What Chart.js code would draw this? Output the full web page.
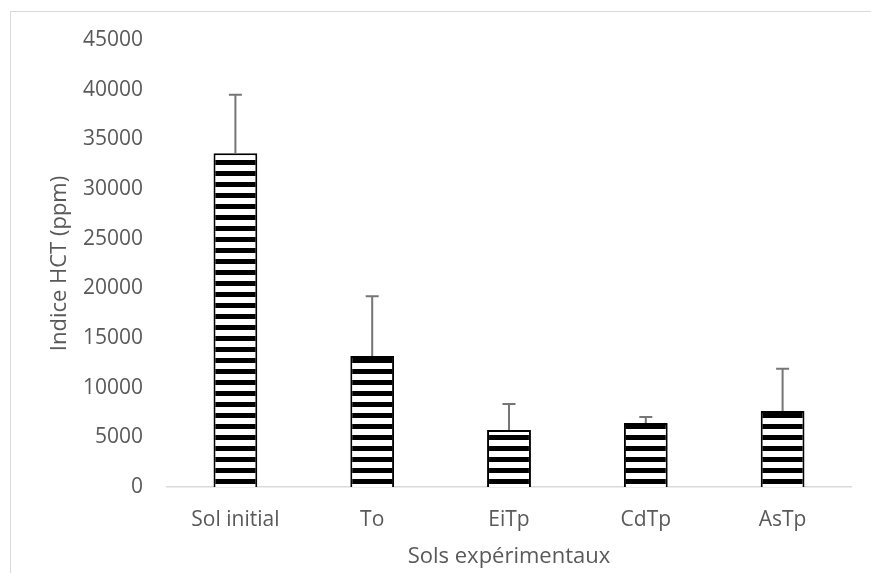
<!DOCTYPE html>
<html>
<head>
<meta charset="utf-8">
<script src="https://cdn.jsdelivr.net/npm/chart.js@4"></script>
<style>
  body { margin: 0; background: #fff; }
</style>
</head>
<body>
<canvas id="graphic" width="871" height="573"></canvas>
<script>
var soils = ['Sol initial', 'To', 'EiTp', 'CdTp', 'AsTp'];
var hctIndex = [33600, 13200, 5750, 6450, 7650];
var hctError = [5900, 6000, 2600, 600, 4250];
var yTicks = [0, 5000, 10000, 15000, 20000, 25000, 30000, 35000, 40000, 45000];

var canvas = document.getElementById('graphic');
var ctx = canvas.getContext('2d');

// horizontal stripe pattern (black / white)
var tile = document.createElement('canvas');
tile.width = 11;
tile.height = 11;
var tctx = tile.getContext('2d');
tctx.fillStyle = '#fff';
tctx.fillRect(0, 0, 11, 11);
tctx.fillStyle = '#000';
tctx.fillRect(0, 6, 11, 5);
var stripes = ctx.createPattern(tile, 'repeat');

var grey = '#595959';
var font = "'Open Sans', sans-serif";

var errorBars = {
    id: 'errorBars',
    afterDatasetsDraw: function (chart) {
        var c = chart.ctx;
        var y = chart.scales.y;
        var meta = chart.getDatasetMeta(0);
        c.save();
        c.strokeStyle = '#767676';
        c.lineWidth = 2;
        meta.data.forEach(function (bar, i) {
            var top = y.getPixelForValue(hctIndex[i] + hctError[i]);
            c.beginPath();
            c.moveTo(bar.x, bar.y);
            c.lineTo(bar.x, top);
            c.moveTo(bar.x - 6.5, top);
            c.lineTo(bar.x + 6.5, top);
            c.stroke();
        });
        c.restore();
    }
};

var frame = {
    id: 'frame',
    beforeDraw: function (chart) {
        var c = chart.ctx;
        c.save();
        c.fillStyle = '#fff';
        c.fillRect(0, 0, chart.width, chart.height);
        c.strokeStyle = '#d9d9d9';
        c.lineWidth = 1;
        c.strokeRect(10.5, 11.5, chart.width, chart.height);
        c.restore();
    }
};

var graphic = new Chart(ctx, {
    type: 'bar',
    data: {
        labels: soils,
        datasets: [{
            data: hctIndex,
            backgroundColor: stripes,
            borderColor: '#000',
            borderWidth: 2,
            categoryPercentage: 1,
            barPercentage: 0.32
        }]
    },
    options: {
        responsive: false,
        animation: false,
        devicePixelRatio: 1,
        layout: { padding: { top: 40, right: 20, bottom: 0, left: 0 } },
        plugins: {
            legend: { display: false },
            tooltip: { enabled: false }
        },
        scales: {
            x: {
                grid: { display: false, drawTicks: false },
                border: { display: true, color: '#d9d9d9', width: 1.5 },
                ticks: { color: grey, padding: 20, font: { family: font, size: 21 } },
                title: {
                    display: true,
                    text: 'Sols expérimentaux',
                    color: grey,
                    padding: { top: 0, bottom: 3 },
                    font: { family: font, size: 22 }
                },
                afterFit: function (scale) { scale.height = 86; }
            },
            y: {
                min: 0,
                max: 45000,
                grid: { display: false, drawTicks: false },
                border: { display: false },
                afterBuildTicks: function (scale) {
                    scale.ticks = yTicks.map(function (v) { return { value: v }; });
                },
                ticks: {
                    color: grey,
                    padding: 24,
                    font: { family: font, size: 21 },
                    callback: function (v) { return String(v); }
                },
                title: {
                    display: true,
                    text: 'Indice HCT (ppm)',
                    color: grey,
                    padding: { top: 47, bottom: 0 },
                    font: { family: font, size: 22 }
                },
                afterFit: function (scale) { scale.width = 167; }
            }
        }
    },
    plugins: [frame, errorBars]
});
</script>
</body>
</html>
